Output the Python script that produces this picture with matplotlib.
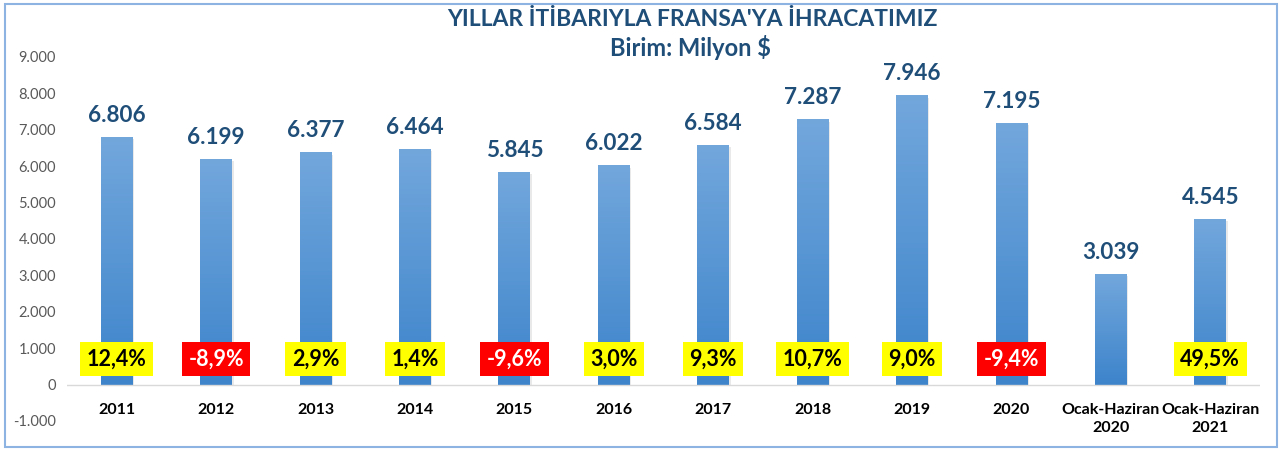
import matplotlib.pyplot as plt
import matplotlib.patches as mpatches
from matplotlib.colors import LinearSegmentedColormap
import numpy as np

# Data
categories = ['2011', '2012', '2013', '2014', '2015', '2016', '2017', '2018',
              '2019', '2020', 'Ocak-Haziran\n2020', 'Ocak-Haziran\n2021']
exports = [6806, 6199, 6377, 6464, 5845, 6022, 6584, 7287, 7946, 7195, 3039, 4545]
value_labels = ['6.806', '6.199', '6.377', '6.464', '5.845', '6.022', '6.584',
                '7.287', '7.946', '7.195', '3.039', '4.545']
changes = [12.4, -8.9, 2.9, 1.4, -9.6, 3.0, 9.3, 10.7, 9.0, -9.4, None, 49.5]
ytick_vals = [-1000, 0, 1000, 2000, 3000, 4000, 5000, 6000, 7000, 8000, 9000]
ytick_labels = ['-1.000', '0', '1.000', '2.000', '3.000', '4.000', '5.000',
                '6.000', '7.000', '8.000', '9.000']

plt.rcParams['font.family'] = ['Lato', 'DejaVu Sans']

fig = plt.figure(figsize=(12.83, 4.5), dpi=100)
ax = fig.add_axes([67 / 1283, 29 / 450, (1260 - 67) / 1283, (421 - 57) / 450])

# outer border
fig.patches.append(mpatches.Rectangle((5 / 1283, 3 / 450), 1272 / 1283, 443 / 450,
                                      transform=fig.transFigure, fill=False,
                                      edgecolor='#8db3e2', linewidth=1.5))

x = np.arange(len(categories))
bars = ax.bar(x, exports, width=0.32, color='#5b9bd5', zorder=2)

# vertical gradient + soft shadow on bars
grad = np.linspace(0, 1, 256).reshape(-1, 1)
cmap = LinearSegmentedColormap.from_list('bar', ['#3d84cb', '#72a7dc'])
for b in bars:
    sh = mpatches.Rectangle((b.get_x() + 0.015, 0), b.get_width(), b.get_height() - 60,
                            facecolor='#c8c8c8', alpha=0.4, zorder=1, edgecolor='none')
    ax.add_patch(sh)
    im = ax.imshow(grad, extent=[b.get_x(), b.get_x() + b.get_width(), 0, b.get_height()],
                   origin='lower', aspect='auto', cmap=cmap, zorder=3)
    im.set_clip_path(b)

for xi, v, lab in zip(x, exports, value_labels):
    ax.annotate(lab, (xi, v), xytext=(0, 8), textcoords='offset points',
                ha='center', va='bottom', fontsize=16.2, fontweight='bold',
                color='#1f4e79', zorder=5)

for xi, c in zip(x, changes):
    if c is None:
        continue
    txt = f'{c:.1f}%'.replace('.', ',')
    if c >= 0:
        fc, tc = '#ffff00', 'black'
    else:
        fc, tc = '#ff0000', 'white'
    ax.text(xi, 700, txt, ha='center', va='center', fontsize=15.5, fontweight='bold',
            color=tc, zorder=6,
            bbox=dict(boxstyle='square,pad=0.3', facecolor=fc, edgecolor='none'))

ax.axhline(0, color='#d9d9d9', linewidth=1, zorder=4)
ax.set_xlim(-0.5, len(categories) - 0.5)
ax.set_ylim(-1000, 9000)
ax.set_yticks(ytick_vals)
ax.set_yticklabels(ytick_labels, fontsize=10.5, color='#595959')
ax.set_xticks(x)
ax.set_xticklabels(categories, fontsize=11.5, fontweight='bold', color='black',
                   linespacing=1.4)
ax.tick_params(axis='both', length=0)
ax.tick_params(axis='y', pad=8)
ax.tick_params(axis='x', pad=-13)
for s in ax.spines.values():
    s.set_visible(False)

fig.text(692 / 1283, 1 - 20 / 450, "YILLAR İTİBARIYLA FRANSA'YA İHRACATIMIZ",
         ha='center', va='center', fontsize=16.5, fontweight='bold', color='#1f4e79')
fig.text(690 / 1283, 1 - 47 / 450, 'Birim: Milyon $', ha='center', va='center',
         fontsize=17, fontweight='bold', color='#1f4e79')

fig.savefig('out.png', dpi=100)
